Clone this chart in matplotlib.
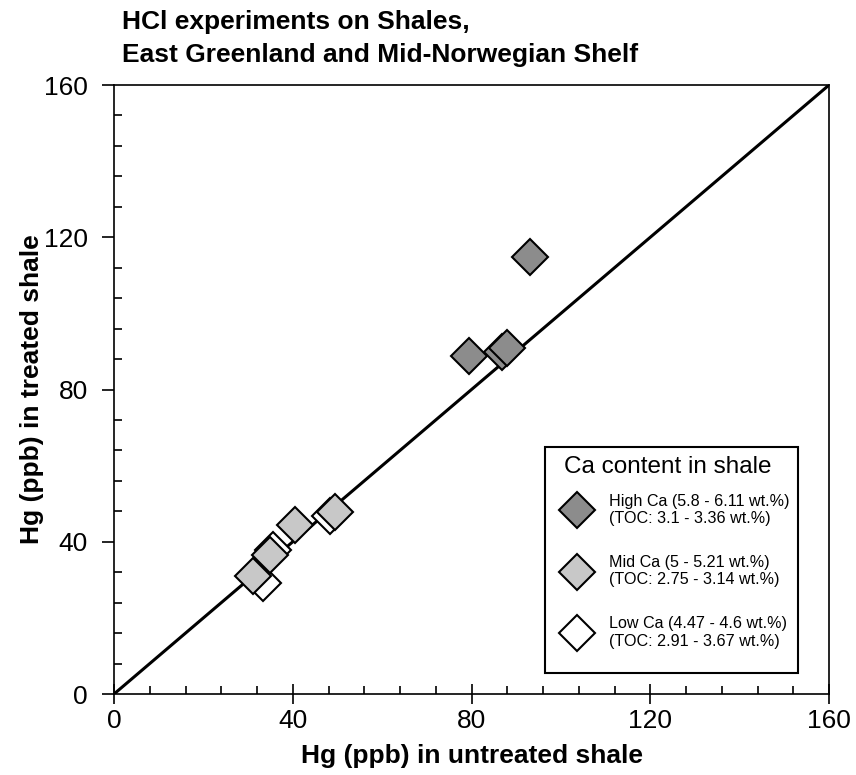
import matplotlib.pyplot as plt
from matplotlib.lines import Line2D
from matplotlib.patches import Rectangle
from matplotlib.ticker import MultipleLocator

plt.rcParams["font.family"] = ["Liberation Sans", "DejaVu Sans"]

# Hg (ppb) untreated vs treated, grouped by Ca content
high_x = [93.1, 79.4, 86.8, 87.9]
high_y = [114.9, 88.7, 89.8, 90.9]
mid_x = [49.4, 40.5, 34.9, 31.0]
mid_y = [47.9, 44.4, 36.5, 31.0]
low_x = [48.3, 35.6, 33.3]
low_y = [46.8, 37.8, 29.1]

labels = ["High Ca (5.8 - 6.11 wt.%)\n(TOC: 3.1 - 3.36 wt.%)",
          "Mid Ca (5 - 5.21 wt.%)\n(TOC: 2.75 - 3.14 wt.%)",
          "Low Ca (4.47 - 4.6 wt.%)\n(TOC: 2.91 - 3.67 wt.%)"]
colors = ["#8c8c8c", "#c8c8c8", "white"]

fig = plt.figure(figsize=(8.56, 7.75), dpi=100)
ax = fig.add_axes([0.1332, 0.1045, 0.8353, 0.7858])

ax.plot([0, 160], [0, 160], color="black", lw=2.2, zorder=1)

ms = 18.5
ax.plot(low_x, low_y, "D", ms=ms, mfc=colors[2], mec="black", mew=1.5, zorder=2)
ax.plot(mid_x, mid_y, "D", ms=ms, mfc=colors[1], mec="black", mew=1.5, zorder=3)
ax.plot(high_x, high_y, "D", ms=ms, mfc=colors[0], mec="black", mew=1.5, zorder=3)

ax.set_xlim(0, 160)
ax.set_ylim(0, 160)
ax.xaxis.set_major_locator(MultipleLocator(40))
ax.yaxis.set_major_locator(MultipleLocator(40))
ax.xaxis.set_minor_locator(MultipleLocator(8))
ax.yaxis.set_minor_locator(MultipleLocator(8))
ax.tick_params(axis="x", which="major", direction="inout", length=14, width=1.2, labelsize=19, pad=4)
ax.tick_params(axis="y", which="major", direction="out", length=9, width=1.2, labelsize=19, pad=10)
ax.tick_params(which="minor", direction="in", length=6, width=1.2)
for s in ax.spines.values():
    s.set_linewidth(1.2)

ax.set_xlabel("Hg (ppb) in untreated shale", fontsize=19, fontweight="bold", labelpad=8)
ax.set_ylabel("Hg (ppb) in treated shale", fontsize=19, fontweight="bold", labelpad=0)

fig.text(122 / 856, 1 - 10 / 775, "HCl experiments on Shales,\nEast Greenland and Mid-Norwegian Shelf",
         fontsize=19, fontweight="bold", ha="left", va="top", linespacing=1.45)

# legend frame and title drawn separately (uneven padding in the original)
ax.add_patch(Rectangle((0.6028, 0.0345), 0.3538, 0.3711, transform=ax.transAxes,
                       facecolor="white", edgecolor="black", lw=1.5, zorder=5))
ax.text(0.775, 0.373, "Ca content in shale", transform=ax.transAxes, fontsize=17.5,
        ha="center", va="center", zorder=6)

handles = [Line2D([], [], ls="none", marker="D", ms=ms, mfc=c, mec="black", mew=1.5) for c in colors]
leg = ax.legend(handles, labels, fontsize=11.6,
                loc="upper left", bbox_to_anchor=(0.625, 0.329), frameon=False,
                labelspacing=1.8, handletextpad=1.0, borderpad=0, borderaxespad=0,
                handlelength=2.0)
leg.set_zorder(6)

fig.savefig("out.png", dpi=100)
